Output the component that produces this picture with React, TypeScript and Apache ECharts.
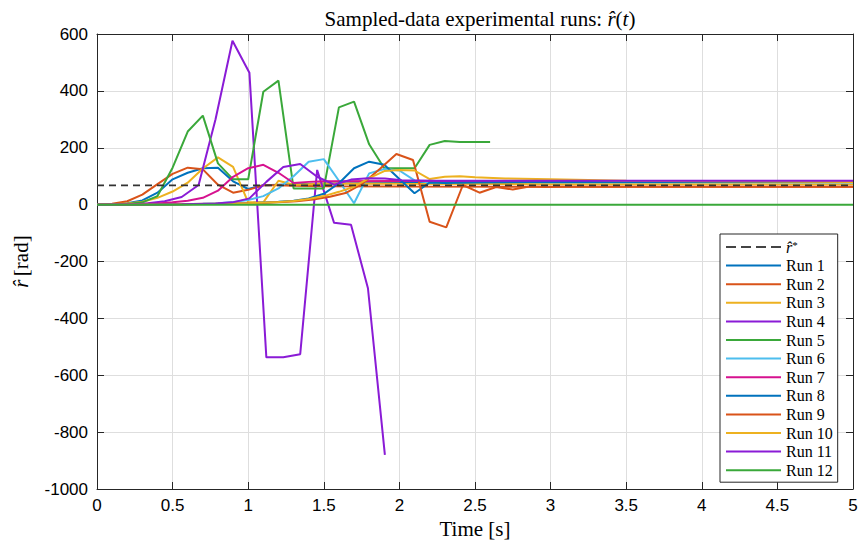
import React, { useEffect, useRef } from 'react';
import * as echarts from 'echarts';

// ---- data ----
const runNames = ['Run 1', 'Run 2', 'Run 3', 'Run 4', 'Run 5', 'Run 6', 'Run 7', 'Run 8', 'Run 9', 'Run 10', 'Run 11', 'Run 12'];
const runColors = ['#0072BD', '#D95319', '#EDB120', '#8A1BD6', '#3AA83A', '#4DBEEE', '#D6128F', '#0072BD', '#D95319', '#EDB120', '#8A1BD6', '#3AA83A'];
const rStarValue = 68;
const rStarName = 'r\u0302*';

const run1: [number, number][] = [[0, 0], [0.1, 1], [0.2, 5], [0.3, 15], [0.4, 42], [0.5, 89], [0.6, 112], [0.7, 128], [0.8, 130], [0.9, 82], [1.0, 55], [1.1, 68], [1.2, 70], [1.3, 72], [1.5, 74], [2.0, 76], [3.0, 78], [5.0, 80]];
const run2: [number, number][] = [[0, 0], [0.1, 3], [0.2, 12], [0.3, 35], [0.4, 72], [0.5, 108], [0.6, 130], [0.7, 124], [0.8, 70], [0.9, 42], [1.0, 52], [1.1, 68], [1.2, 68], [1.3, 66], [1.5, 65], [2.0, 64], [3.0, 63], [5.0, 63]];
const run3: [number, number][] = [[0, 0], [0.1, 1], [0.2, 4], [0.3, 10], [0.4, 24], [0.5, 46], [0.6, 77], [0.7, 127], [0.8, 166], [0.9, 133], [1.0, 8], [1.1, 8], [1.2, 84], [1.3, 70], [1.4, 72], [1.5, 74], [2.0, 73], [3.0, 72], [5.0, 72]];
const run4: [number, number][] = [[0, 0], [0.112, 0.5], [0.224, 2], [0.336, 5], [0.448, 12], [0.56, 27], [0.672, 69], [0.784, 300], [0.896, 576], [1.008, 464], [1.12, -537], [1.232, -537], [1.344, -526], [1.456, 122], [1.568, -64], [1.68, -71], [1.792, -294], [1.904, -880]];
const run5: [number, number][] = [[0, 0], [0.1, 0.5], [0.2, 2], [0.3, 8], [0.4, 30], [0.5, 130], [0.6, 257], [0.7, 313], [0.8, 145], [0.9, 89], [1.0, 89], [1.1, 397], [1.2, 436], [1.3, 57], [1.4, 57], [1.5, 57], [1.6, 342], [1.7, 362], [1.8, 212], [1.9, 128], [2.0, 128], [2.1, 128], [2.2, 210], [2.3, 224], [2.4, 220], [2.5, 220], [2.6, 220]];
const run6: [number, number][] = [[0, 0], [0.5, 1], [0.7, 3], [0.8, 5], [0.9, 9], [1.0, 16], [1.1, 30], [1.2, 57], [1.3, 100], [1.4, 151], [1.5, 160], [1.6, 84], [1.7, 5], [1.8, 110], [1.9, 125], [2.0, 120], [2.1, 85], [2.2, 78], [2.3, 80], [2.5, 80], [3.0, 79], [5.0, 78]];
const run7: [number, number][] = [[0, 0], [0.2, 1], [0.4, 4], [0.5, 8], [0.6, 14], [0.7, 24], [0.8, 49], [0.9, 98], [1.0, 128], [1.1, 140], [1.2, 112], [1.3, 76], [1.4, 80], [1.5, 82], [2.0, 83], [5.0, 82]];
const run8: [number, number][] = [[0, 0], [0.5, 1], [0.8, 3], [1.0, 5], [1.2, 10], [1.3, 14], [1.4, 22], [1.5, 38], [1.6, 75], [1.7, 128], [1.8, 151], [1.9, 140], [2.0, 90], [2.1, 40], [2.2, 78], [2.3, 76], [2.5, 78], [3.0, 80], [5.0, 80]];
const run9: [number, number][] = [[0, 0], [0.55, 1], [0.88, 3], [1.1, 6], [1.32, 12], [1.43, 18], [1.54, 28], [1.65, 42], [1.76, 75], [1.87, 125], [1.98, 178], [2.09, 157], [2.2, -60], [2.31, -80], [2.42, 69], [2.53, 42], [2.64, 62], [2.75, 53], [2.86, 64], [2.97, 62], [3.08, 63], [5.0, 63]];
const run10: [number, number][] = [[0, 0], [0.5, 1], [1.0, 5], [1.2, 9], [1.3, 13], [1.4, 20], [1.5, 30], [1.6, 45], [1.7, 63], [1.8, 93], [1.9, 118], [2.0, 122], [2.1, 120], [2.2, 90], [2.3, 98], [2.4, 100], [2.5, 96], [2.7, 92], [3.0, 89], [3.5, 84], [4.0, 82], [5.0, 80]];
const run11: [number, number][] = [[0, 0], [0.56, 1], [0.784, 4], [0.896, 8], [1.008, 22], [1.12, 80], [1.232, 132], [1.344, 143], [1.456, 98], [1.568, 70], [1.68, 88], [1.792, 93], [1.904, 92], [2.016, 86], [2.24, 84], [2.8, 84], [5.0, 84]];
const run12: [number, number][] = [[0, 0], [5.0, 0]];
const runData = [run1, run2, run3, run4, run5, run6, run7, run8, run9, run10, run11, run12];
const rStarLine: [number, number][] = [[0, rStarValue], [5, rStarValue]];

const xMin = 0, xMax = 5, xStep = 0.5;
const yMin = -1000, yMax = 600, yStep = 200;

const serif = '"Liberation Serif", "Times New Roman", serif';
const sans = '"Liberation Sans", Arial, Helvetica, sans-serif';
const axisColor = '#262626';
const gridColor = '#dedede';

const solidIcon = 'path://M0,0H55V2H0Z';
const dashedIcon = 'path://M0,0H10V2H0Z M15,0H25V2H15Z M30,0H40V2H30Z M45,0H55V2H45Z';

export default function App() {
  const ref = useRef<HTMLDivElement>(null);
  useEffect(() => {
    if (!ref.current) return;
    const chart = echarts.init(ref.current, undefined, { renderer: 'svg' });
    const series: any[] = [
      {
        name: rStarName,
        type: 'line',
        data: rStarLine,
        symbol: 'none',
        z: 5,
        lineStyle: { color: '#333333', width: 1.8, type: [7, 5] },
        itemStyle: { color: '#333333' },
      },
      ...runData.map((d, i) => ({
        name: runNames[i],
        type: 'line',
        data: d,
        symbol: 'none',
        z: 2,
        lineStyle: { color: runColors[i], width: 2 },
        itemStyle: { color: runColors[i] },
      })),
    ];
    const baseAxis = {
      axisLine: { show: true, onZero: false, lineStyle: { color: axisColor, width: 1 } },
      axisTick: { show: true, inside: true, length: 7, lineStyle: { color: axisColor } },
    };
    chart.setOption({
      animation: false,
      backgroundColor: '#ffffff',
      title: {
        text: '{a|Sampled-data experimental runs: }{b|r\u0302}{a|(}{b|t}{a|)}',
        left: 475,
        top: 3,
        textAlign: 'center',
        textStyle: {
          fontWeight: 'normal',
          rich: {
            a: { fontFamily: serif, fontSize: 21, fontWeight: 'normal', color: '#000' },
            b: { fontFamily: serif, fontSize: 21, fontWeight: 'normal', fontStyle: 'italic', color: '#000' },
          },
        },
      },
      grid: { left: 97, right: 8, top: 34, bottom: 59, containLabel: false },
      legend: {
        orient: 'vertical',
        left: 720,
        top: 234,
        data: [
          { name: rStarName, icon: dashedIcon, itemStyle: { color: '#444444' } },
          ...runNames.map((n, i) => ({ name: n, icon: solidIcon, itemStyle: { color: runColors[i] } })),
        ],
        itemWidth: 55,
        itemHeight: 2,
        itemGap: 2.6,
        padding: [5, 5, 4, 6],
        borderColor: axisColor,
        borderWidth: 1,
        backgroundColor: '#ffffff',
        selectedMode: false,
        formatter: (name: string) => (name === rStarName ? '{i|r\u0302}{s|*}' : name),
        textStyle: {
          fontFamily: serif,
          fontSize: 16,
          lineHeight: 16,
          color: '#000',
          rich: {
            i: { fontFamily: serif, fontSize: 16, lineHeight: 16, fontStyle: 'italic', color: '#000' },
            s: { fontFamily: serif, fontSize: 11, lineHeight: 16, color: '#000', verticalAlign: 'top' },
          },
        },
      },
      xAxis: [
        {
          type: 'value',
          min: xMin,
          max: xMax,
          interval: xStep,
          position: 'bottom',
          name: 'Time [s]',
          nameLocation: 'middle',
          nameGap: 28,
          nameTextStyle: { fontFamily: serif, fontSize: 21, color: '#000' },
          ...baseAxis,
          axisLabel: { fontFamily: sans, fontSize: 17, color: '#000', margin: 8, formatter: (v: number) => String(v) },
          splitLine: { show: true, lineStyle: { color: gridColor, width: 1 } },
        },
        {
          type: 'value',
          min: xMin,
          max: xMax,
          interval: xStep,
          position: 'top',
          ...baseAxis,
          axisLabel: { show: false },
          splitLine: { show: false },
        },
      ],
      yAxis: [
        {
          type: 'value',
          min: yMin,
          max: yMax,
          interval: yStep,
          position: 'left',
          name: '{b|r\u0302} {a|[rad]}',
          nameLocation: 'middle',
          nameGap: 66,
          nameTextStyle: {
            rich: {
              a: { fontFamily: serif, fontSize: 21, color: '#000' },
              b: { fontFamily: serif, fontSize: 21, fontStyle: 'italic', color: '#000' },
            },
          },
          ...baseAxis,
          axisLabel: { fontFamily: sans, fontSize: 17, color: '#000', margin: 9, formatter: (v: number) => String(v) },
          splitLine: { show: true, lineStyle: { color: gridColor, width: 1 } },
        },
        {
          type: 'value',
          min: yMin,
          max: yMax,
          interval: yStep,
          position: 'right',
          ...baseAxis,
          axisLabel: { show: false },
          splitLine: { show: false },
        },
      ],
      series,
    });
    return () => chart.dispose();
  }, []);
  return <div ref={ref} style={{ width: 861, height: 548, position: 'absolute', left: 0, top: 0 }} />;
}
